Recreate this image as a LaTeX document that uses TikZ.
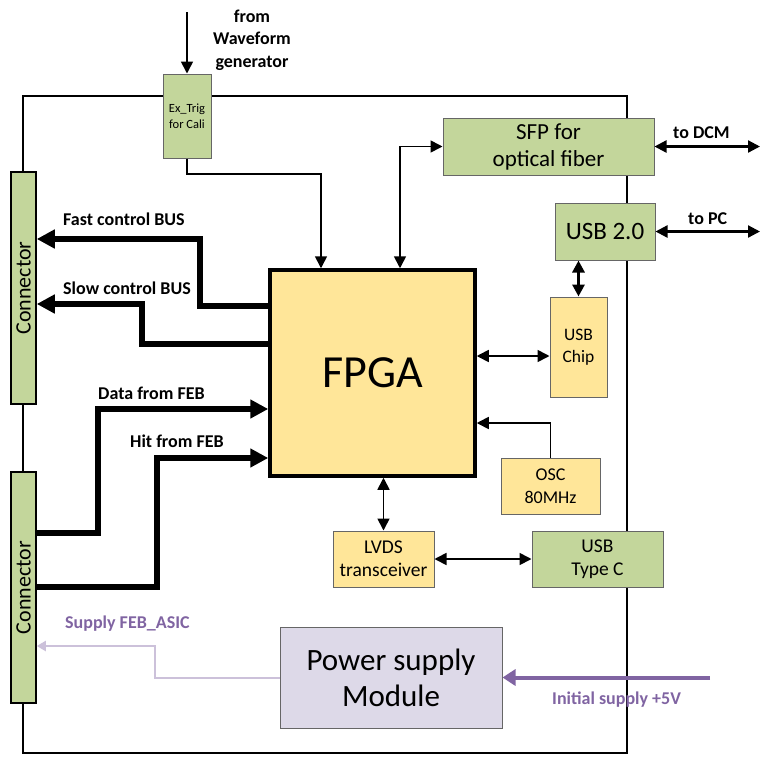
\documentclass[tikz,border=0pt]{standalone}
\usepackage{fontspec}
\setmainfont{Carlito}
\usepackage{xcolor}
\usetikzlibrary{arrows.meta}
\definecolor{boardgreen}{HTML}{C3D69B}
\definecolor{chipyellow}{HTML}{FFE699}
\definecolor{powerlilac}{HTML}{DDD9E8}
\definecolor{supplyviolet}{HTML}{8064A2}
\definecolor{feblilac}{HTML}{CCC1DA}
\tikzset{
  greenbox/.style={draw=black!60, fill=boardgreen, line width=1pt, inner sep=0pt, align=center},
  yellowbox/.style={draw=black!60, fill=chipyellow, line width=1pt, inner sep=0pt, align=center},
  bus/.style={line width=6pt, -{Triangle[length=18pt,width=18pt]}},
  sig/.style={line width=1.7pt, -{Triangle[length=12pt,width=12pt]}},
  bisig/.style={line width=1.7pt, {Triangle[length=12pt,width=12pt]}-{Triangle[length=12pt,width=12pt]}},
  buslabel/.style={font=\bfseries\fontsize{18}{21}\selectfont, inner sep=0pt, anchor=west},
}
\begin{document}
\begin{tikzpicture}[x=1pt, y=-1pt]
            \useasboundingbox (0,0) rectangle (764,756);
            \draw[line width=1.3pt] (23,96) rectangle (627,753); % board

            \node[greenbox, minimum width=48, minimum height=84, font=\fontsize{12.5}{16}\selectfont] (extrig) at (187,116) {Ex\_Trig\\for Cali};
            \node[greenbox, line width=1.5pt, draw=black, minimum width=25, minimum height=232] (conn1) at (23.5,288) {};
            \node[rotate=90, font=\fontsize{22}{26}\selectfont] at (conn1) {Connector};
            \node[greenbox, line width=1.5pt, draw=black, minimum width=25, minimum height=231] (conn2) at (23.5,587.5) {};
            \node[rotate=90, font=\fontsize{22}{26}\selectfont] at (conn2) {Connector};
            \node[yellowbox, draw=black, line width=3.5pt, minimum width=205, minimum height=206, font=\fontsize{46}{50}\selectfont] (fpga) at (372.5,373) {FPGA};
            \node[greenbox, minimum width=211, minimum height=57, font=\fontsize{23}{27}\selectfont] (sfp) at (548.5,146.5) {SFP for\\optical fiber};
            \node[greenbox, minimum width=100, minimum height=57, font=\fontsize{25}{28}\selectfont] (usbtwo) at (605,231.5) {USB 2.0};
            \node[yellowbox, minimum width=57, minimum height=100, font=\fontsize{17.5}{22}\selectfont] (usbchip) at (578.5,347) {USB\\Chip};
            \node[yellowbox, minimum width=99, minimum height=56, font=\fontsize{18}{23}\selectfont] (osc) at (550.5,486) {OSC\\80MHz};
            \node[yellowbox, minimum width=101, minimum height=56, font=\fontsize{19.5}{23}\selectfont] (lvds) at (383.5,559) {LVDS\\transceiver};
            \node[greenbox, minimum width=131, minimum height=56, font=\fontsize{19.5}{23}\selectfont] (typec) at (597.5,559) {USB\\Type C};
            \node[draw=black!60, fill=powerlilac, line width=1pt, minimum width=222, minimum height=101, align=center, font=\fontsize{31}{36}\selectfont] (power) at (391,677.5) {Power supply\\Module};

            \coordinate (wave) at (187,12);
            \coordinate (dcm) at (760,146.5);
            \coordinate (pc) at (760,231.5);
            \coordinate (vin) at (710,677.5);

            \node[font=\bfseries\fontsize{18}{22.5}\selectfont, align=center] at (252,40) {from\\Waveform\\generator};
            \node[buslabel] at (63,219) {Fast control BUS};
            \node[buslabel] at (63,288) {Slow control BUS};
            \node[buslabel] at (98,393) {Data from FEB};
            \node[buslabel] at (130,441) {Hit from FEB};
            \node[buslabel] at (673,133) {to DCM};
            \node[buslabel] at (688,219) {to PC};
            \node[buslabel, text=supplyviolet] at (65,624) {Supply FEB\_ASIC};
            \node[buslabel, text=supplyviolet] at (552,700) {Initial supply +5V};

            \draw[sig] (wave) -- (extrig.north); % wave-extrig
            \draw[sig] (extrig.south) |- (321,174) -- (fpga.north -| 321,0); % extrig-fpga
            \draw[bus] (fpga.west |- 0,306) -| (200,239) -- (conn1.east |- 0,239); % fast bus
            \draw[bus] (fpga.west |- 0,344) -| (142,304) -- (conn1.east |- 0,304); % slow bus
            \draw[bus] (conn2.east |- 0,533) -| (98,409) -- (fpga.west |- 0,409); % data
            \draw[bus] (conn2.east |- 0,587) -| (157,458) -- (fpga.west |- 0,458); % hit
            \draw[bisig] (fpga.north -| 400,0) |- (sfp.west); % fpga-sfp
            \draw[bisig, line width=2.3pt] (sfp.east) -- (dcm); % sfp-dcm
            \draw[bisig, line width=2.3pt] (usbtwo.east) -- (pc); % usb-pc
            \draw[bisig, line width=3pt] (usbchip.north |- usbtwo.south) -- (usbchip.north); % usb-chip
            \draw[bisig] (fpga.east |- 0,356) -- (usbchip.west |- 0,356); % fpga-chip
            \draw[sig] (osc.north) |- (fpga.east |- 0,423); % osc-fpga
            \draw[bisig] (lvds.north |- fpga.south) -- (lvds.north); % fpga-lvds
            \draw[bisig] (lvds.east) -- (typec.west); % lvds-typec
            \draw[feblilac, line width=2pt, -{Triangle[length=9pt,width=10pt]}] (power.west) -| (155,646) -- (conn2.east |- 0,646); % power-conn
            \draw[supplyviolet, line width=4pt, -{Triangle[length=13pt,width=16pt]}] (vin) -- (power.east); % vin-power
        \end{tikzpicture}
\end{document}
